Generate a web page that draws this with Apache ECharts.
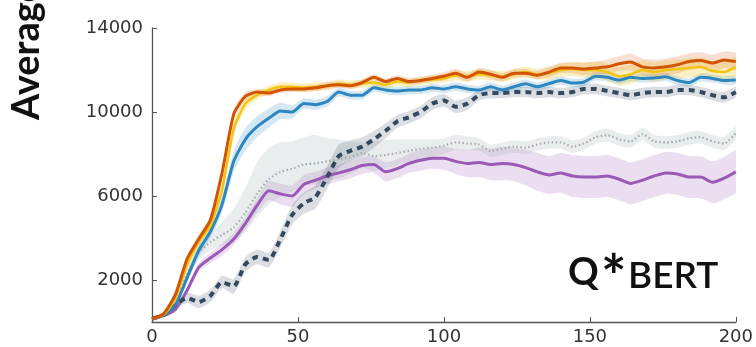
<!DOCTYPE html>
<html>
<head>
<meta charset="utf-8">
<script src="https://cdn.jsdelivr.net/npm/echarts@6/dist/echarts.min.js"></script>
<style>html,body{margin:0;padding:0;background:#fff}#c{width:756px;height:347px}</style>
</head>
<body>
<div id="c"></div>
<script>
const xs = [0,4,8,12,16,20,24,28,32,36,
  40,44,48,52,56,60,64,68,72,76,
  80,84,88,92,96,100,104,108,112,116,
  120,124,128,132,136,140,144,148,152,156,
  160,164,168,172,176,180,184,188,192,196,
  200];
const yTicks = [2000, 6000, 10000, 14000];
const xTicks = [0, 50, 100, 150, 200];

const orange = [150,400,1300,3000,3950,4860,7100,9900,10750,10950,
  10900,11050,11100,11100,11150,11250,11300,11250,11400,11650,
  11450,11600,11450,11500,11600,11700,11850,11650,11900,11800,
  11650,11850,11850,11750,11900,12100,12100,12050,12100,12150,
  12300,12380,12150,12100,12150,12250,12400,12450,12330,12480,
  12400];
const orangeSpread = [50,80,150,200,200,200,250,250,200,150,
  150,150,150,150,150,150,150,150,150,150,
  150,150,150,150,150,200,200,200,200,200,
  200,200,200,200,250,250,250,300,300,350,
  350,400,400,400,400,400,400,400,400,400,
  400];

const yellow = [150,350,1100,2700,3800,4600,6300,9200,10400,10800,
  11050,11200,11200,11150,11200,11250,11350,11300,11350,11400,
  11300,11450,11400,11500,11550,11600,11750,11700,11800,11750,
  11700,11800,11900,11800,11850,12000,12050,12000,12000,11900,
  11700,11800,12000,11900,12000,12050,12100,12150,11950,11900,
  12150];
const yellowSpread = [50,80,150,200,200,250,300,300,250,200,
  200,200,200,200,200,200,200,200,200,200,
  200,200,200,200,200,200,250,250,250,250,
  250,250,250,250,300,300,350,350,400,400,
  450,450,450,450,450,450,450,450,450,450,
  450];

const blue = [150,330,800,2100,3400,4300,5600,7650,8700,9300,
  9700,10050,10000,10400,10350,10500,10950,10800,10800,11150,
  11050,11000,11050,11050,11150,11100,11200,11100,11050,11200,
  11050,11200,11350,11200,11350,11500,11380,11430,11700,11650,
  11520,11650,11600,11620,11680,11500,11400,11650,11600,11500,
  11520];
const blueSpread = [50,80,150,250,300,300,400,500,550,500,
  450,400,300,250,250,250,200,200,200,200,
  200,200,200,200,200,200,200,200,200,200,
  200,200,200,200,200,200,200,200,200,200,
  200,200,200,200,200,200,200,200,200,200,
  200];

const dashed = [150,330,800,1150,950,1250,1900,1700,2750,3100,
  2950,3950,5100,5650,5950,6900,7900,8150,8350,8700,
  9100,9550,9750,10000,10400,10550,10250,10400,10800,10900,
  10900,10950,10950,10900,10950,10900,10950,11100,11100,11000,
  10900,10800,10900,10950,10950,11050,11050,10950,10800,10700,
  10950];
const dashedSpread = [50,80,150,250,300,300,300,350,350,350,
  350,400,450,500,550,550,550,500,450,400,
  350,300,300,300,300,300,300,300,250,250,
  250,250,250,250,250,250,250,250,250,250,
  250,250,250,250,250,250,250,250,250,250,
  250];

const purple = [150,300,600,1500,2600,3050,3450,3950,4700,5550,
  6250,6100,6000,6550,6750,6950,7100,7250,7450,7500,
  7150,7300,7550,7700,7800,7800,7650,7550,7600,7500,
  7550,7500,7350,7150,7000,7100,6950,6900,6900,6950,
  6800,6600,6750,6950,7100,7050,6900,6900,6650,6850,
  7150];
const purpleSpread = [50,80,100,150,200,250,300,300,300,350,
  450,500,500,450,400,400,400,400,400,400,
  450,450,450,500,500,550,600,650,700,750,
  800,800,850,900,900,950,1000,1000,1000,1000,
  1000,1000,1000,1000,1000,1000,1000,1000,1000,1000,
  1000];

const dotted = [150,330,900,2300,3300,3800,4150,4500,5200,6100,
  6800,7150,7300,7500,7550,7650,7750,7850,8050,7900,
  7950,8050,8150,8250,8300,8400,8550,8500,8450,8150,
  8250,8350,8300,8450,8550,8550,8350,8500,8800,8900,
  8700,8600,8950,8600,8550,8600,8750,8800,8600,8500,
  9000];
const dottedSpread = [50,80,100,200,300,400,500,700,900,1100,
  1200,1200,1100,1000,1000,900,900,800,700,700,
  600,600,500,500,450,400,350,350,300,300,
  300,300,300,300,300,300,300,300,300,300,
  300,300,300,300,300,300,300,300,300,300,
  300];
const dottedSpreadUp = [50,80,100,200,300,400,600,900,1200,1500,
  1500,1400,1300,1300,1350,1100,950,750,500,700,
  700,650,550,450,400,350,350,350,300,300,
  300,300,300,300,300,300,300,300,300,300,
  300,300,300,300,300,300,300,300,300,300,
  300];

const defs = [
  {name:'purple', mean:purple, lo:purpleSpread, hi:purpleSpread, color:'#9b59b6', band:'rgba(155,89,182,0.2)', width:3, type:'solid'},
  {name:'dotted', mean:dotted, lo:dottedSpread, hi:dottedSpreadUp, color:'#a3aaae', band:'rgba(150,165,170,0.2)', width:2.2, type:[1.5,2.5]},
  {name:'dashed', mean:dashed, lo:dashedSpread, hi:dashedSpread, color:'#34495e', band:'rgba(52,73,94,0.18)', width:4, type:[6,5]},
  {name:'blue', mean:blue, lo:blueSpread, hi:blueSpread, color:'#2e86c1', band:'rgba(46,134,193,0.2)', width:3, type:'solid'},
  {name:'yellow', mean:yellow, lo:yellowSpread, hi:yellowSpread, color:'#f1c40f', band:'rgba(241,196,15,0.25)', width:2.5, type:'solid'},
  {name:'orange', mean:orange, lo:orangeSpread, hi:orangeSpread, color:'#d35400', band:'rgba(211,84,0,0.18)', width:3, type:'solid'}
];

const series = [];
defs.forEach(d => {
  const upper = xs.map((x,i)=>[x, d.mean[i]+d.hi[i]]);
  const lower = xs.map((x,i)=>[x, d.mean[i]-d.lo[i]]);
  series.push({type:'custom', silent:true, z:1, clip:true,
    data:[[xs[0], d.mean[0]]],
    renderItem:(params, api) => {
      const pts = upper.map(p=>api.coord(p)).concat(lower.slice().reverse().map(p=>api.coord(p)));
      return {type:'polygon', shape:{points:pts, smooth:0.2}, style:{fill:d.band, stroke:null}};
    }});
});
defs.forEach(d => {
  series.push({type:'line', name:d.name, symbol:'none', smooth:0.2, z:3,
    lineStyle:{color:d.color, width:d.width, type:d.type},
    data: xs.map((x,i)=>[x, d.mean[i]])});
});

const chart = echarts.init(document.getElementById('c'));
chart.setOption({
  animation:false,
  grid:{left:152, right:18, top:28, bottom:25},
  xAxis:{type:'value', min:0, max:200, interval:50,
    axisLine:{lineStyle:{color:'#555', width:1.3}},
    axisTick:{inside:true, length:5, lineStyle:{color:'#555'}},
    axisLabel:{color:'#333', fontSize:18, fontFamily:'DejaVu Sans', margin:6,
      customValues:xTicks, formatter:v=>String(v)},
    splitLine:{show:false}},
  yAxis:{type:'value', min:0, max:14000, interval:2000,
    axisLine:{show:true, lineStyle:{color:'#555', width:1.3}},
    axisTick:{show:true, inside:true, length:5, lineStyle:{color:'#555'}, customValues:yTicks},
    axisLabel:{color:'#333', fontSize:18, fontFamily:'DejaVu Sans', margin:9, customValues:yTicks, formatter:v=>String(v)},
    splitLine:{show:false}},
  graphic:[
    {type:'text', x:27, y:120, rotation:Math.PI/2,
      style:{text:'Average Reward', font:'bold 38px Lato', fill:'#111', textAlign:'left', textVerticalAlign:'middle'}},
    {type:'text', x:568, y:254, style:{text:'Q', font:'bold 38px Lato', fill:'#111', textAlign:'left', textVerticalAlign:'top'}},
    {type:'text', x:601, y:249, style:{text:'*', font:'bold 60px Lato', fill:'#111', textAlign:'left', textVerticalAlign:'top'}},
    {type:'text', x:628, y:258, style:{text:'BERT', font:'600 37px Lato', fill:'#111', textAlign:'left', textVerticalAlign:'top'}}
  ],
  series: series
});
</script>
</body>
</html>
